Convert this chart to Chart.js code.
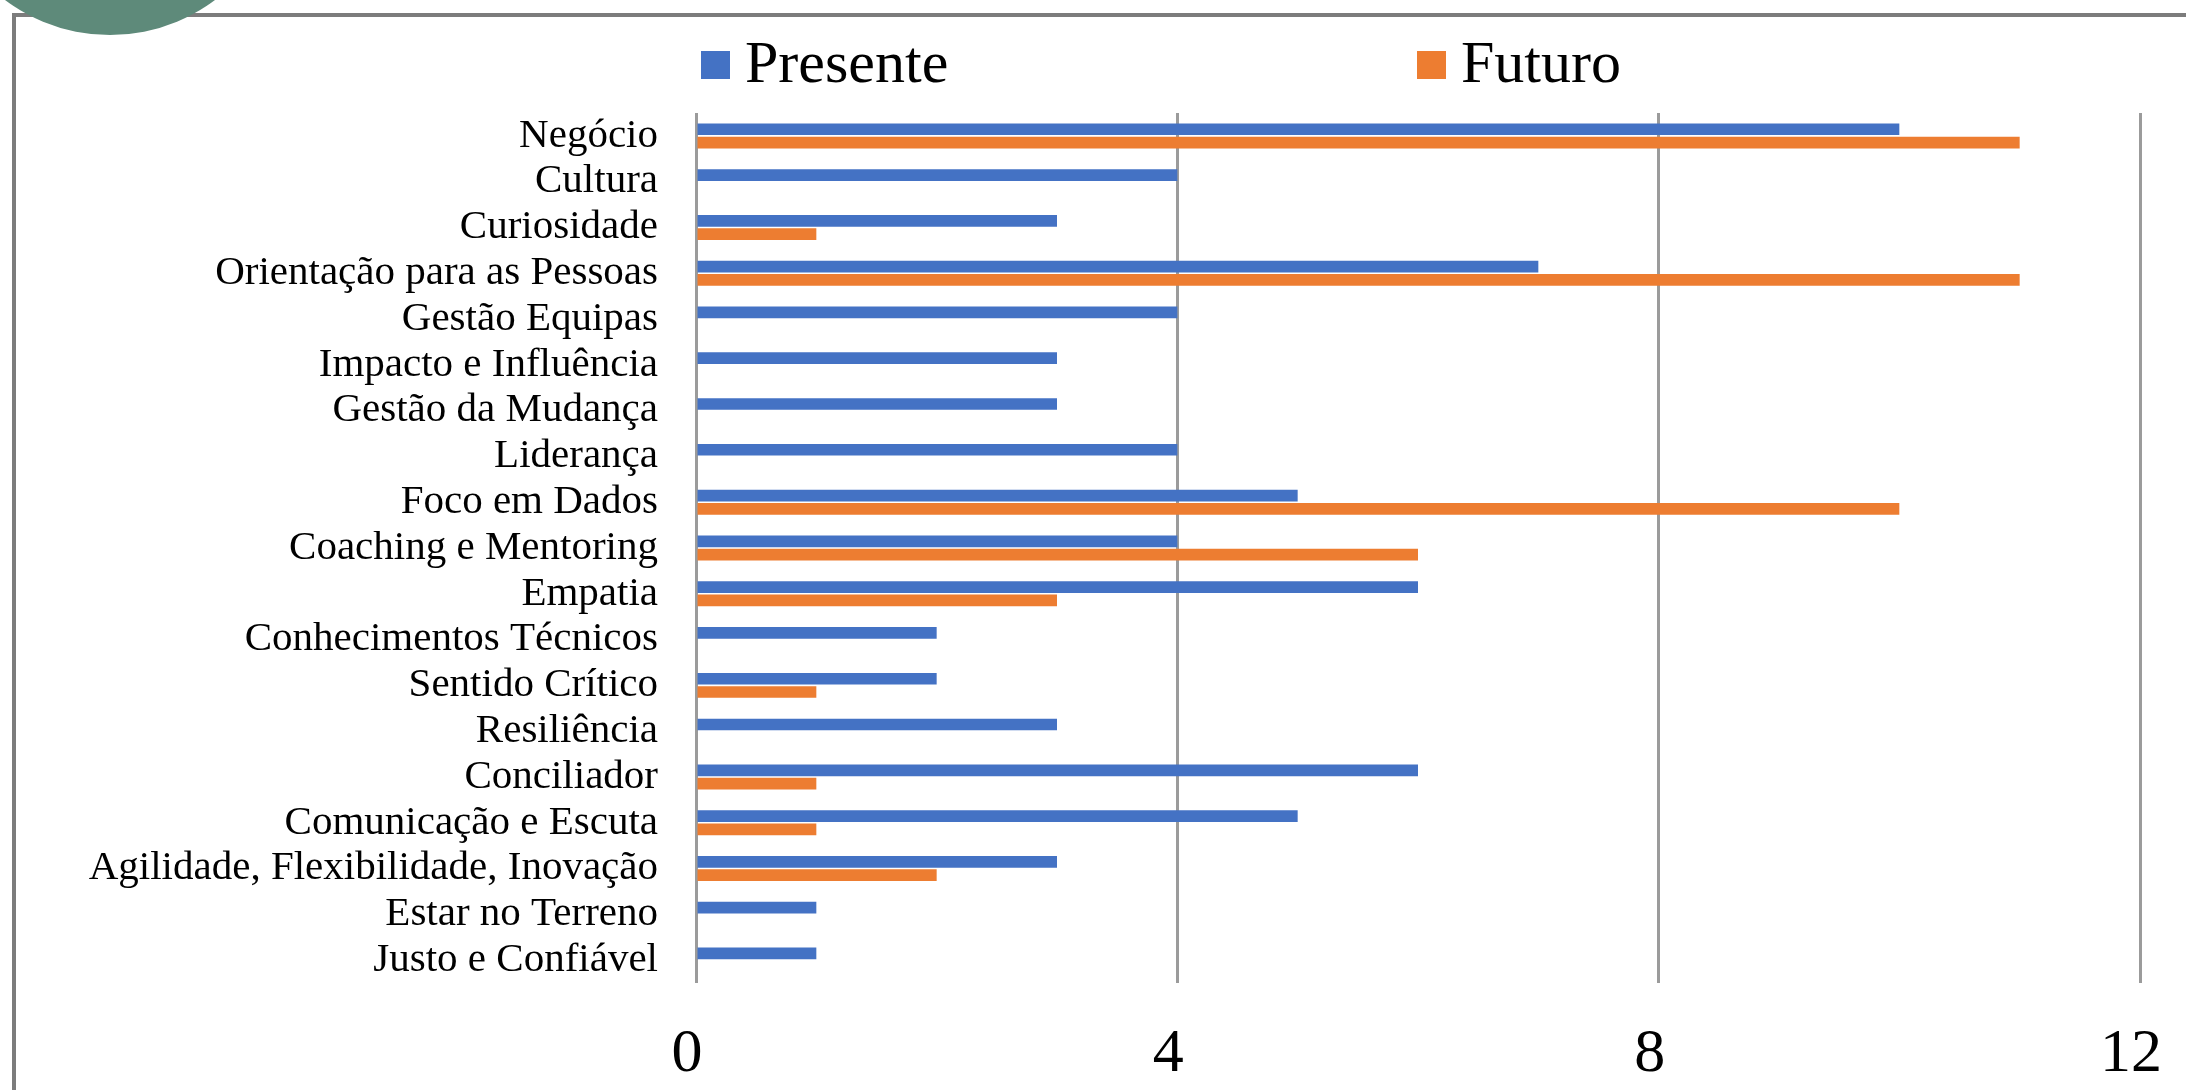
<!DOCTYPE html>
<html>
<head>
<meta charset="utf-8">
<script src="https://cdn.jsdelivr.net/npm/chart.js@4.4.1/dist/chart.umd.min.js"></script>
<style>
  html, body { margin: 0; padding: 0; background: #ffffff; overflow: hidden; }
  #stage { position: relative; width: 2186px; height: 1090px; }
  #frame {
    position: absolute; left: 12px; top: 13px; right: -20px; bottom: -20px;
    border-left: 4px solid #7c7c7c; border-top: 4px solid #7c7c7c;
  }
  #badge {
    position: absolute; left: -65px; top: -315px; width: 350px; height: 350px;
    border-radius: 50%; background: #5e8a7a; z-index: 3;
  }
  #chartBox { position: absolute; left: 0; top: 0; width: 2186px; height: 1090px; z-index: 2; }
</style>
</head>
<body>
<div id="stage">
  <div id="frame"></div>
  <div id="badge"></div>
  <div id="chartBox"><canvas id="chart" width="2186" height="1090"></canvas></div>
</div>
<script>
// Competências — número de referências no presente e no futuro
const categories = [
  "Negócio",
  "Cultura",
  "Curiosidade",
  "Orientação para as Pessoas",
  "Gestão Equipas",
  "Impacto e Influência",
  "Gestão da Mudança",
  "Liderança",
  "Foco em Dados",
  "Coaching e Mentoring",
  "Empatia",
  "Conhecimentos Técnicos",
  "Sentido Crítico",
  "Resiliência",
  "Conciliador",
  "Comunicação e Escuta",
  "Agilidade, Flexibilidade, Inovação",
  "Estar no Terreno",
  "Justo e Confiável"
];
const presente = [10, 4, 3, 7, 4, 3, 3, 4, 5, 4, 6, 2, 2, 3, 6, 5, 3, 1, 1];
const futuro   = [11, 0, 1, 11, 0, 0, 0, 0, 10, 6, 3, 0, 1, 0, 1, 1, 2, 0, 0];
const seriesNames = ["Presente", "Futuro"];
const xTicks = [0, 4, 8, 12];

const BLUE = "#4472c4";
const ORANGE = "#ed7d31";
const GRID = "#9b9b9b";
const SERIF = "'Liberation Serif', 'Times New Roman', serif";

// Legend drawn on the canvas, two items spread across the top
const topLegend = {
  id: "topLegend",
  afterDraw(chart) {
    const ctx = chart.ctx;
    const xs = [701, 1417];
    ctx.save();
    ctx.font = "60px " + SERIF;
    ctx.textBaseline = "alphabetic";
    ctx.textAlign = "left";
    chart.data.datasets.forEach((ds, i) => {
      ctx.fillStyle = ds.backgroundColor;
      ctx.fillRect(xs[i], 51, 29, 28);
      ctx.fillStyle = "#000000";
      ctx.fillText(ds.label, xs[i] + 44, 82);
    });
    ctx.restore();
  }
};

new Chart(document.getElementById("chart"), {
  type: "bar",
  data: {
    labels: categories,
    datasets: [
      { label: seriesNames[0], data: presente, backgroundColor: BLUE },
      { label: seriesNames[1], data: futuro, backgroundColor: ORANGE }
    ]
  },
  options: {
    indexAxis: "y",
    responsive: false,
    animation: false,
    devicePixelRatio: 1,
    categoryPercentage: 0.58,
    barPercentage: 0.88,
    layout: { padding: { top: 113, right: 30, bottom: 0, left: 0 } },
    plugins: {
      legend: { display: false },
      tooltip: { enabled: false }
    },
    scales: {
      x: {
        min: 0,
        max: 12,
        afterBuildTicks: (scale) => { scale.ticks = xTicks.map(v => ({ value: v })); },
        afterFit: (scale) => { scale.height = 107; },
        grid: { color: GRID, lineWidth: 3, drawTicks: false },
        border: { display: false },
        ticks: {
          padding: 15,
          labelOffset: -9,
          color: "#000000",
          font: { family: SERIF, size: 62, lineHeight: 1.84 }
        }
      },
      y: {
        afterFit: (scale) => { scale.width = 696; },
        grid: { display: false, drawTicks: false },
        border: { display: false },
        ticks: {
          autoSkip: false,
          padding: 38,
          color: "#000000",
          font: { family: SERIF, size: 41 }
        }
      }
    }
  },
  plugins: [topLegend]
});
</script>
</body>
</html>
